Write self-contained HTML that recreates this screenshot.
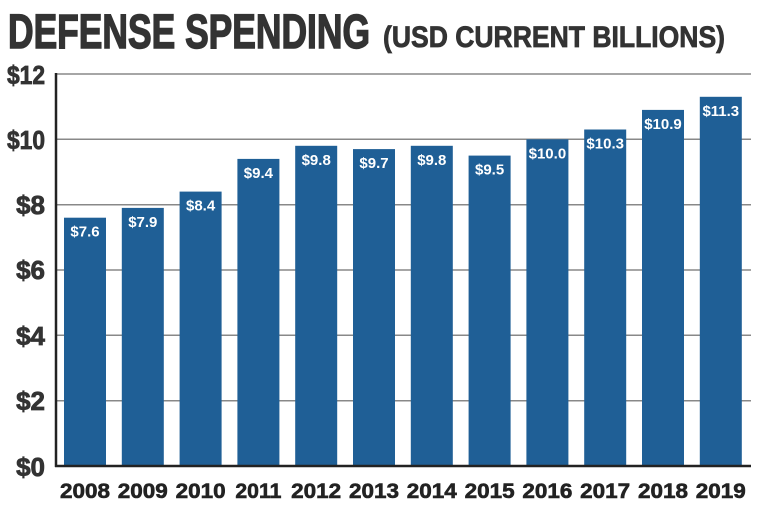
<!DOCTYPE html><html><head><style>
body{margin:0;width:768px;height:511px;background:#fff;overflow:hidden;font-family:"Liberation Sans",sans-serif}
</style></head><body>
<svg width="768" height="511" xmlns="http://www.w3.org/2000/svg" font-family="Liberation Sans, sans-serif" font-weight="bold">
<text x="8" y="48" font-size="48" fill="#333" stroke="#333" stroke-width="1.5" textLength="362" lengthAdjust="spacingAndGlyphs">DEFENSE SPENDING</text>
<text x="383" y="47" font-size="30" fill="#333" stroke="#333" stroke-width="0.8" textLength="342" lengthAdjust="spacingAndGlyphs">(USD CURRENT BILLIONS)</text>
<g stroke="#888" stroke-width="1.5">
<line x1="57" x2="751" y1="74" y2="74"/><line x1="57" x2="751" y1="139.3" y2="139.3"/><line x1="57" x2="751" y1="204.7" y2="204.7"/><line x1="57" x2="751" y1="270" y2="270"/><line x1="57" x2="751" y1="335.3" y2="335.3"/><line x1="57" x2="751" y1="400.7" y2="400.7"/>
</g>
<g fill="#333" stroke="#333" stroke-width="0.8" font-size="26" text-anchor="end">
<text x="45" y="84" textLength="38" lengthAdjust="spacingAndGlyphs">$12</text>
<text x="45" y="149" textLength="38" lengthAdjust="spacingAndGlyphs">$10</text>
<text x="45" y="214">$8</text><text x="45" y="279">$6</text><text x="45" y="345">$4</text><text x="45" y="410">$2</text><text x="45" y="476">$0</text>
</g>
<g fill="#1f5f96">
<rect x="64" y="217.7" width="42" height="248.3"/>
<rect x="121.8" y="207.9" width="42" height="258.1"/>
<rect x="179.6" y="191.6" width="42" height="274.4"/>
<rect x="237.4" y="158.9" width="42" height="307.1"/>
<rect x="295.2" y="145.8" width="42" height="320.2"/>
<rect x="353" y="149.1" width="42" height="316.9"/>
<rect x="410.8" y="145.8" width="42" height="320.2"/>
<rect x="468.6" y="155.6" width="42" height="310.4"/>
<rect x="526.4" y="139.3" width="42" height="326.7"/>
<rect x="584.2" y="129.5" width="42" height="336.5"/>
<rect x="642" y="109.9" width="42" height="356.1"/>
<rect x="699.8" y="96.8" width="42" height="369.2"/>
</g>
<g fill="#fff" font-size="15" text-anchor="middle">
<text x="85" y="236.7">$7.6</text>
<text x="142.8" y="226.9">$7.9</text>
<text x="200.6" y="210.6">$8.4</text>
<text x="258.4" y="177.9">$9.4</text>
<text x="316.2" y="164.8">$9.8</text>
<text x="374" y="168.1">$9.7</text>
<text x="431.8" y="164.8">$9.8</text>
<text x="489.6" y="174.6">$9.5</text>
<text x="547.4" y="158.3">$10.0</text>
<text x="605.2" y="148.5">$10.3</text>
<text x="663" y="128.9">$10.9</text>
<text x="720.8" y="115.8">$11.3</text>
</g>
<g fill="#222" stroke="#222" stroke-width="0.6" font-size="21" text-anchor="middle">
<text x="85" y="498" textLength="50" lengthAdjust="spacingAndGlyphs">2008</text>
<text x="142.8" y="498" textLength="50" lengthAdjust="spacingAndGlyphs">2009</text>
<text x="200.6" y="498" textLength="50" lengthAdjust="spacingAndGlyphs">2010</text>
<text x="258.4" y="498" textLength="46" lengthAdjust="spacingAndGlyphs">2011</text>
<text x="316.2" y="498" textLength="50" lengthAdjust="spacingAndGlyphs">2012</text>
<text x="374" y="498" textLength="50" lengthAdjust="spacingAndGlyphs">2013</text>
<text x="431.8" y="498" textLength="50" lengthAdjust="spacingAndGlyphs">2014</text>
<text x="489.6" y="498" textLength="50" lengthAdjust="spacingAndGlyphs">2015</text>
<text x="547.4" y="498" textLength="50" lengthAdjust="spacingAndGlyphs">2016</text>
<text x="605.2" y="498" textLength="50" lengthAdjust="spacingAndGlyphs">2017</text>
<text x="663" y="498" textLength="50" lengthAdjust="spacingAndGlyphs">2018</text>
<text x="720.8" y="498" textLength="50" lengthAdjust="spacingAndGlyphs">2019</text>
</g>
<line x1="56" x2="56" y1="73" y2="467" stroke="#222" stroke-width="2.5"/>
<line x1="55" x2="751" y1="466" y2="466" stroke="#222" stroke-width="2.5"/>
</svg>
</body></html>
